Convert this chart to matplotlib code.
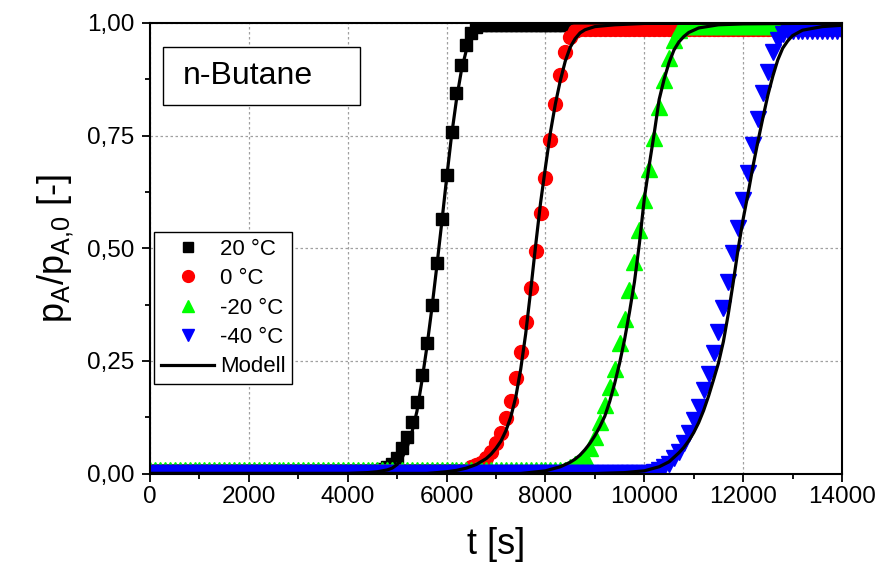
import matplotlib
matplotlib.use('Agg')
import matplotlib.pyplot as plt
from matplotlib.patches import Rectangle
from matplotlib.ticker import MultipleLocator
import numpy as np

plt.rcParams.update({'font.family': 'Liberation Sans',
                     'mathtext.fontset': 'custom',
                     'mathtext.rm': 'Liberation Sans',
                     'mathtext.it': 'Liberation Sans:italic'})

# measured breakthrough data, sampled every 100 s
step = 100
t_end = 14000

# 20 °C
base_20 = 0.005
rise_start_20 = 4700
rise_20 = [0.010, 0.015, 0.021, 0.034, 0.056, 0.082, 0.115, 0.159, 0.219, 0.289,
           0.374, 0.467, 0.564, 0.663, 0.757, 0.844, 0.907, 0.951, 0.977, 0.990]
top_20 = 0.996

# 0 °C
base_0 = 0.006
rise_start_0 = 6500
rise_0 = [0.014, 0.018, 0.024, 0.034, 0.048, 0.068, 0.091, 0.124, 0.161, 0.213, 0.269,
          0.337, 0.412, 0.495, 0.578, 0.657, 0.740, 0.820, 0.885, 0.936, 0.970, 0.983]
top_0 = 0.987

# -20 °C
base_m20 = 0.008
rise_start_m20 = 8500
rise_m20 = [0.014, 0.022, 0.028, 0.037, 0.056, 0.082, 0.115, 0.152, 0.193, 0.233, 0.289, 0.344,
            0.407, 0.470, 0.540, 0.607, 0.677, 0.744, 0.813, 0.873, 0.922, 0.962, 0.985]
top_m20 = 0.993

# -40 °C
base_m40 = 0.001
rise_start_m40 = 10200
rise_m40 = [0.004, 0.008, 0.015, 0.022, 0.034, 0.048, 0.067, 0.089, 0.119, 0.148, 0.185, 0.222,
            0.267, 0.315, 0.367, 0.426, 0.490, 0.544, 0.607, 0.666, 0.729, 0.788, 0.844, 0.892,
            0.936, 0.962, 0.975]
top_m40 = 0.983

# model curves
tm_20 = [0, 4000, 4400, 4600, 4800, 4900, 5000, 5100, 5200, 5300, 5400, 5500, 5600, 5700, 5800,
         5900, 6000, 6100, 6200, 6300, 6400, 6500, 6600, 6700, 6800, 7000, 7400, 8000, 14000]
ym_20 = [0, 0, 0.002, 0.004, 0.008, 0.012, 0.02, 0.035, 0.058, 0.092, 0.138, 0.205, 0.28, 0.365,
         0.458, 0.555, 0.655, 0.75, 0.83, 0.895, 0.94, 0.966, 0.98, 0.988, 0.993, 0.997, 0.999, 1.0, 1.0]

tm_0 = [0, 5600, 6000, 6200, 6400, 6600, 6800, 6900, 7000, 7100, 7200, 7300, 7400, 7500, 7600,
        7700, 7800, 7900, 8000, 8100, 8200, 8300, 8400, 8500, 8600, 8700, 8800, 9000, 9400, 10000, 14000]
ym_0 = [0, 0, 0.004, 0.007, 0.012, 0.02, 0.033, 0.043, 0.056, 0.072, 0.095, 0.126, 0.17, 0.232, 0.31,
        0.405, 0.505, 0.6, 0.68, 0.757, 0.82, 0.872, 0.915, 0.946, 0.965, 0.978, 0.985, 0.992, 0.996, 0.999, 1.0]

tm_m20 = [0, 7500, 8000, 8300, 8500, 8600, 8700, 8800, 8900, 9000, 9100, 9200, 9300, 9400, 9500, 9600,
          9700, 9800, 9900, 10000, 10100, 10200, 10300, 10400, 10500, 10600, 10700, 10800, 10900,
          11100, 11500, 12000, 14000]
ym_m20 = [0, 0, 0.006, 0.015, 0.025, 0.032, 0.041, 0.053, 0.067, 0.084, 0.104, 0.127, 0.16, 0.2, 0.245,
          0.297, 0.358, 0.425, 0.51, 0.61, 0.685, 0.755, 0.83, 0.875, 0.912, 0.94, 0.958, 0.97, 0.979,
          0.989, 0.996, 0.998, 1.0]

tm_m40 = [0, 9000, 9600, 10000, 10300, 10500, 10700, 10800, 10900, 11000, 11100, 11200, 11300, 11400,
          11500, 11600, 11700, 11800, 11900, 12000, 12100, 12200, 12300, 12400, 12500, 12600, 12700,
          12800, 12900, 13000, 13200, 13600, 14000]
ym_m40 = [0, 0, 0.002, 0.006, 0.015, 0.026, 0.046, 0.058, 0.073, 0.091, 0.113, 0.14, 0.172, 0.208,
          0.245, 0.293, 0.355, 0.425, 0.5, 0.565, 0.622, 0.683, 0.738, 0.79, 0.84, 0.882, 0.918,
          0.944, 0.96, 0.972, 0.984, 0.992, 0.995]

x_ticks = [0, 2000, 4000, 6000, 8000, 10000, 12000, 14000]
y_ticks = [0.0, 0.25, 0.5, 0.75, 1.0]
y_labels = ['0,00', '0,25', '0,50', '0,75', '1,00']


def series(base, start, rise, top):
    # full series: flat baseline, measured rise, flat plateau
    n_rise = len(rise)
    t_base = np.arange(0, start, step)
    t_top = np.arange(start + n_rise * step, t_end + 1, step)
    t = np.concatenate([t_base, start + step * np.arange(n_rise), t_top])
    y = np.concatenate([np.full(len(t_base), base), rise, np.full(len(t_top), top)])
    return t, y


fig = plt.figure(figsize=(8.83, 5.69), dpi=100)
ax = fig.add_axes([0.1699, 0.1678, 0.7837, 0.7918])

t, y = series(base_20, rise_start_20, rise_20, top_20)
ax.plot(t, y, 's', color='black', ms=9, label='20 °C')
t, y = series(base_0, rise_start_0, rise_0, top_0)
ax.plot(t, y, 'o', color='#ff0000', ms=10, label='0 °C')
t, y = series(base_m20, rise_start_m20, rise_m20, top_m20)
ax.plot(t, y, '^', color='#00ff00', ms=11, label='-20 °C')
t, y = series(base_m40, rise_start_m40, rise_m40, top_m40)
ax.plot(t, y, 'v', color='#0000ff', ms=11, label='-40 °C')

ax.plot(tm_20, ym_20, '-', color='black', lw=2.3, label='Modell')
ax.plot(tm_0, ym_0, '-', color='black', lw=2.3)
ax.plot(tm_m20, ym_m20, '-', color='black', lw=2.3)
ax.plot(tm_m40, ym_m40, '-', color='black', lw=2.3)

ax.set_xlim(0, 14000)
ax.set_ylim(0, 1.0)
ax.set_xticks(x_ticks)
ax.set_yticks(y_ticks)
ax.set_yticklabels(y_labels)
ax.xaxis.set_minor_locator(MultipleLocator(1000))
ax.yaxis.set_minor_locator(MultipleLocator(0.125))
ax.tick_params(which='major', direction='out', length=6, width=1.3, labelsize=17.5)
ax.tick_params(which='minor', direction='out', length=3.5, width=1.3)
ax.tick_params(axis='x', pad=3)
ax.tick_params(axis='y', pad=5)
for s in ax.spines.values():
    s.set_linewidth(1.5)
ax.grid(True, which='major', color='#a0a0a0', linestyle=(0, (2, 2)), linewidth=0.9)
ax.set_axisbelow(True)

ax.set_xlabel('t [s]', fontsize=26, labelpad=14)
ax.set_ylabel(r'$\mathregular{p_A/p_{A{,}0}}$ [-]', fontsize=26, labelpad=8)

ax.add_patch(Rectangle((0.0188, 0.818), 0.285, 0.129, transform=ax.transAxes,
                       facecolor='white', edgecolor='black', lw=1.0, zorder=5))
ax.text(0.048, 0.882, 'n-Butane', transform=ax.transAxes, fontsize=23,
        ha='left', va='center', zorder=6)

leg = ax.legend(loc='upper left', bbox_to_anchor=(0.006, 0.536), fontsize=16,
                numpoints=1, handlelength=2.4, handletextpad=0.25, labelspacing=0.38,
                borderpad=0.3, borderaxespad=0, fancybox=False, framealpha=1,
                edgecolor='black', markerscale=0.85)
leg.get_frame().set_linewidth(1.0)

fig.savefig('out.png', dpi=100)
